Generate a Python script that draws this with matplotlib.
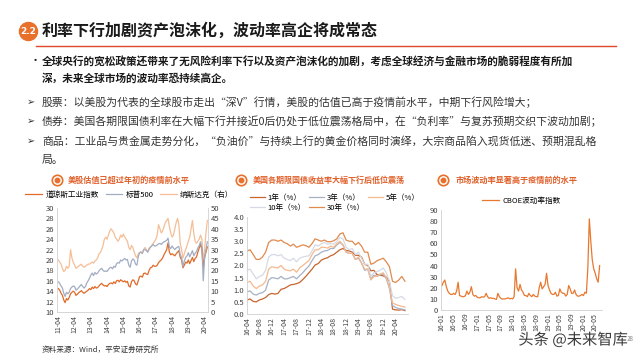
import matplotlib
matplotlib.use('Agg')
import matplotlib.pyplot as plt
from matplotlib.lines import Line2D
import matplotlib.patheffects as pe

plt.rcParams['font.family'] = ['Noto Sans CJK SC', 'DejaVu Sans']
plt.rcParams['axes.unicode_minus'] = False

# ---------- data ----------
# chart 1: PE, monthly 2011-04 .. 2020-06
pe_labels = ['11-04', '12-04', '13-04', '14-04', '15-04', '16-04', '17-04', '18-04', '19-04', '20-04']
dow = [14.5, 14.2, 13.6, 13.2, 12.3, 11.8, 12.6, 12.3, 12.8,
       13.5, 13.8, 14.0, 13.8, 13.2, 13.4, 13.7, 13.9, 14.1, 13.8, 13.6, 13.8,
       14.0, 14.2, 14.5, 14.3, 14.8, 14.5, 14.9, 14.6, 14.7, 15.0, 15.3, 15.5,
       15.2, 15.0, 15.1, 14.9, 15.3, 15.5, 15.6, 15.4, 15.8, 15.5, 16.0, 16.1,
       15.8, 16.2, 16.0, 15.8, 16.0, 15.7, 15.9, 15.0, 14.8, 15.8, 16.2, 16.0,
       15.4, 15.2, 16.0, 16.8, 16.9, 16.7, 17.4, 17.5, 17.3, 17.2, 18.0, 18.5,
       18.6, 19.0, 18.8, 18.8, 19.0, 19.5, 19.8, 20.0, 20.4, 21.0, 21.5, 22.0,
       23.3, 21.5, 21.0, 21.2, 21.0, 20.8, 21.2, 21.5, 21.8, 20.5, 20.0, 18.5,
       19.0, 19.6, 19.4, 20.0, 19.3, 19.9, 20.5, 19.7, 20.3, 20.6, 21.5, 22.3,
       23.0, 22.0, 18.5, 20.5, 21.5, 22.5]
spx = [15.8, 15.5, 15.0, 14.6, 13.6, 13.0, 13.8, 13.5, 13.8,
       14.5, 14.8, 15.0, 14.9, 14.2, 14.4, 14.7, 15.0, 15.3, 14.9, 14.6, 14.9,
       15.6, 16.0, 16.5, 17.1, 17.5, 17.0, 17.6, 17.3, 17.5, 17.9, 18.2, 18.4,
       18.0, 17.8, 17.9, 17.8, 18.2, 18.5, 18.6, 18.3, 18.8, 18.6, 19.3, 19.5,
       19.4, 20.0, 19.8, 20.1, 20.3, 20.0, 20.1, 19.0, 18.6, 19.8, 20.2, 20.0,
       19.2, 19.0, 20.6, 21.4, 21.5, 21.3, 22.0, 22.0, 21.8, 21.5, 22.2, 22.5,
       22.7, 23.0, 22.7, 22.7, 22.9, 23.1, 23.2, 23.0, 23.3, 23.5, 23.6, 23.8,
       24.2, 22.5, 22.2, 22.7, 22.3, 22.0, 22.3, 22.5, 22.6, 21.0, 20.5, 18.8,
       19.8, 20.5, 20.8, 21.4, 20.6, 21.2, 21.8, 20.8, 21.3, 21.6, 22.3, 22.8,
       23.5, 22.4, 16.0, 20.5, 22.0, 23.5]
nasdaq = [25, 24, 23, 21, 19.5, 20, 22, 21, 22,
          30, 26, 24, 22.5, 21, 21.5, 22, 22.5, 23, 22, 21.5, 22,
          22.5, 23, 23, 23.5, 24, 23.5, 24.5, 25, 26, 28, 28.5, 30,
          32, 35, 36, 35, 37, 39, 40, 39, 38, 36, 35, 34,
          35, 37, 36, 37.5, 36, 35, 34, 31, 30, 32, 31, 29,
          27, 26, 28, 28.5, 29, 28, 30, 31, 30, 29, 30, 31,
          32, 33, 34, 35, 37, 42, 40, 38, 39, 41, 43, 44,
          45, 41, 38, 36, 37, 40, 43, 45, 42, 33, 30, 26,
          28, 30, 32, 34, 36, 40, 44, 38, 34, 33, 34, 35,
          37, 35, 24, 30, 38, 44]

# chart 2: US treasury yields (%), monthly 2016-04 .. 2020-07
ust_labels = ['16-04', '16-08', '16-12', '17-04', '17-08', '17-12', '18-04',
              '18-08', '18-12', '19-04', '19-08', '19-12', '20-04']
y1 = [0.58, 0.62, 0.52, 0.50, 0.58, 0.62, 0.68, 0.80, 0.85,
      0.82, 0.85, 1.02, 1.05, 1.12, 1.20, 1.22, 1.25, 1.30, 1.42, 1.55, 1.70,
      1.85, 2.02, 2.08, 2.22, 2.28, 2.32, 2.40, 2.45, 2.55, 2.65, 2.70, 2.62,
      2.60, 2.55, 2.42, 2.42, 2.35, 2.05, 2.00, 1.78, 1.80, 1.62, 1.60, 1.57,
      1.52, 1.35, 0.20, 0.17, 0.16, 0.18, 0.14]
y3 = [0.92, 0.95, 0.82, 0.78, 0.85, 0.88, 0.98, 1.40, 1.50,
      1.48, 1.45, 1.55, 1.45, 1.45, 1.50, 1.55, 1.45, 1.58, 1.70, 1.85, 1.98,
      2.20, 2.40, 2.45, 2.55, 2.60, 2.62, 2.70, 2.70, 2.85, 2.95, 2.85, 2.55,
      2.50, 2.50, 2.25, 2.30, 2.10, 1.80, 1.85, 1.45, 1.60, 1.55, 1.62, 1.65,
      1.45, 1.05, 0.35, 0.27, 0.22, 0.20, 0.17]
y5 = [1.30, 1.35, 1.15, 1.05, 1.15, 1.20, 1.35, 1.85, 1.95,
      1.92, 1.90, 2.00, 1.85, 1.80, 1.78, 1.85, 1.72, 1.90, 2.00, 2.10, 2.20,
      2.45, 2.65, 2.65, 2.75, 2.75, 2.72, 2.80, 2.75, 2.90, 3.00, 2.85, 2.55,
      2.50, 2.50, 2.25, 2.35, 2.10, 1.85, 1.85, 1.40, 1.55, 1.55, 1.65, 1.70,
      1.50, 1.10, 0.45, 0.40, 0.35, 0.32, 0.28]
y10 = [1.80, 1.85, 1.65, 1.45, 1.55, 1.60, 1.80, 2.35, 2.45,
       2.45, 2.40, 2.45, 2.30, 2.25, 2.20, 2.30, 2.15, 2.30, 2.35, 2.38, 2.40,
       2.60, 2.85, 2.80, 2.90, 2.95, 2.88, 2.90, 2.88, 3.00, 3.15, 3.10, 2.75,
       2.65, 2.70, 2.45, 2.55, 2.30, 2.05, 2.05, 1.55, 1.70, 1.75, 1.80, 1.90,
       1.70, 1.35, 0.75, 0.65, 0.68, 0.72, 0.60]
y30 = [2.60, 2.65, 2.45, 2.25, 2.25, 2.35, 2.55, 2.95, 3.05,
       3.05, 3.00, 3.05, 2.95, 2.90, 2.80, 2.88, 2.75, 2.80, 2.85, 2.82, 2.75,
       2.90, 3.10, 3.05, 3.00, 3.05, 2.98, 2.98, 3.02, 3.10, 3.30, 3.35, 3.05,
       3.00, 3.00, 2.85, 2.95, 2.80, 2.55, 2.55, 2.05, 2.10, 2.20, 2.25, 2.30,
       2.15, 1.95, 1.35, 1.30, 1.40, 1.55, 1.35]

# chart 3: CBOE VIX, half-monthly 2016-01 .. 2020-06
vix_labels = ['16-01', '16-05', '16-09', '17-01', '17-05', '17-09', '18-01',
              '18-05', '18-09', '19-01', '19-05', '19-09', '20-01', '20-05']
vix = [22, 25, 27, 21, 17, 15, 14, 14, 15, 14, 17, 25, 13, 12.5, 12, 12, 13, 17, 14, 16, 21, 14, 12.5, 13,
       11.5, 11, 11, 12, 11.5, 12, 15, 12, 10.5, 11, 10.5, 10.5, 10, 9.5, 15, 12, 10.5, 9.8, 10, 10, 10.5, 11, 10, 10.5,
       10, 12, 37, 20, 17, 23, 18, 16, 13, 13, 12, 15, 13, 12, 14, 12.5, 12, 12, 20, 25, 19, 21, 23, 33,
       22, 18, 15, 14, 14, 16, 12.5, 13, 19, 16, 15, 15, 12.5, 14, 22, 19, 15, 15, 18, 14, 12.5, 12.5, 13, 14,
       13, 16, 15, 38, 82, 62, 45, 37, 33, 28, 25, 40]

ORANGE = '#E8702A'
SUB = '#E0602A'
TXT = '#333333'
W, H = 640, 360


def fx(px):
    return px / W


def fy(py):
    return 1 - py / H


def style_ax(ax, spines=('left', 'bottom')):
    for s in ax.spines:
        ax.spines[s].set_visible(s in spines)
        ax.spines[s].set_color('#D0D0D0')
        ax.spines[s].set_linewidth(0.6)
    ax.tick_params(length=0, labelsize=5.5, colors='#404040', pad=2)
    ax.tick_params(axis='x', labelsize=5, rotation=90)


def icon(x, y):
    fig.add_artist(Line2D([fx(x)], [fy(y)], marker='o', markersize=7.5, mfc='white',
                          mec=ORANGE, mew=1.2, transform=fig.transFigure))
    fig.add_artist(Line2D([fx(x)], [fy(y)], marker='o', markersize=3.2, color=ORANGE,
                          transform=fig.transFigure))


fig = plt.figure(figsize=(6.4, 3.6), dpi=100)

# ---------- header ----------
fig.add_artist(Line2D([fx(28)], [fy(31)], marker='o', markersize=13, color=ORANGE,
                      transform=fig.transFigure))
fig.text(fx(28), fy(31), '2.2', color='white', fontsize=6.5, fontweight='bold',
         ha='center', va='center', family='DejaVu Sans')
fig.text(fx(42), fy(31), '利率下行加剧资产泡沫化，波动率高企将成常态', fontsize=11.5,
         fontweight='bold', color='#1A1A1A', va='center')
fig.add_artist(Line2D([fx(36), fx(616)], [fy(46), fy(46)], color='#E0472B', lw=1,
                      transform=fig.transFigure))

fig.text(fx(30), fy(61), '•', fontsize=8, color='#1A1A1A', va='center')
fig.text(fx(42), fy(61), '全球央行的宽松政策还带来了无风险利率下行以及资产泡沫化的加剧，考虑全球经济与金融市场的脆弱程度有所加',
         fontsize=7.7, fontweight='bold', color='#1A1A1A', va='center')
fig.text(fx(42), fy(78), '深，未来全球市场的波动率恐持续高企。', fontsize=7.7,
         fontweight='bold', color='#1A1A1A', va='center')

lines = [(102, '股票：以美股为代表的全球股市走出“深V”行情，美股的估值已高于疫情前水平，中期下行风险增大；'),
         (121, '债券：美国各期限国债利率在大幅下行并接近0后仍处于低位震荡格局中，在“负利率”与复苏预期交织下波动加剧；'),
         (141, '商品：工业品与贵金属走势分化，“负油价”与持续上行的黄金价格同时演绎，大宗商品陷入现货低迷、预期混乱格'),
         (160, '局。')]
for yy, s in lines:
    fig.text(fx(42), fy(yy), s, fontsize=7.8, color=TXT, va='center')
for yy in (102, 121, 141):
    fig.text(fx(27), fy(yy), '➢', fontsize=7, color=TXT, va='center',
             family=['DejaVu Sans'])

# ---------- chart 1 ----------
icon(57, 180)
fig.text(fx(68), fy(180), '美股估值已超过年初的疫情前水平', fontsize=5.9, fontweight='bold',
         color=SUB, va='center')
ax1 = fig.add_axes([fx(57), fy(312), fx(151), 104 / H])
m1 = range(len(dow))
l_dow, = ax1.plot(m1, dow, color='#E06A28', lw=0.9)
l_spx, = ax1.plot(m1, spx, color='#A3ADC2', lw=0.9)
ax1.set_ylim(10, 30)
ax1.set_yticks(range(10, 31, 2))
ax1.set_xlim(-1, len(dow) - 0.5)
ax1.set_xticks(range(0, 109, 12), pe_labels)
style_ax(ax1)
ax1b = ax1.twinx()
l_nas, = ax1b.plot(m1, nasdaq, color='#F5BE96', lw=0.9)
ax1b.set_ylim(0, 50)
ax1b.set_yticks(range(0, 51, 5))
style_ax(ax1b, spines=('right',))
ax1b.set_zorder(ax1.get_zorder() - 1)
ax1.patch.set_visible(False)
ax1.legend([l_dow, l_spx, l_nas], ['道琼斯工业指数', '标普500', '纳斯达克（右）'],
           ncol=3, frameon=False, fontsize=5.5, loc='lower center',
           bbox_to_anchor=(0.48, 1.06), handlelength=2.2, columnspacing=0.9,
           handletextpad=0.4, borderaxespad=0)

# ---------- chart 2 ----------
icon(241, 180)
fig.text(fx(253), fy(180), '美国各期限国债收益率大幅下行后低位震荡', fontsize=5.8,
         fontweight='bold', color=SUB, va='center')
ax2 = fig.add_axes([fx(247), fy(314), fx(161), 97 / H])
m2 = range(len(y1))
h1, = ax2.plot(m2, y1, color='#C8642F', lw=0.9)
h3, = ax2.plot(m2, y3, color='#A8B0C4', lw=0.9)
h5, = ax2.plot(m2, y5, color='#F4B98E', lw=0.9)
h10, = ax2.plot(m2, y10, color='#D5DAE4', lw=0.9)
h30, = ax2.plot(m2, y30, color='#E08A4E', lw=0.9)
ax2.set_ylim(0, 4)
ax2.set_yticks([i * 0.5 for i in range(9)], [f'{i * 0.5:.1f}' for i in range(9)])
ax2.set_xlim(0, len(y1))
ax2.set_xticks(range(0, 49, 4), ust_labels)
style_ax(ax2)
ax2.legend([h1, h10, h3, h30, h5], ['1年（%）', '10年（%）', '3年（%）', '30年（%）', '5年（%）'],
           ncol=3, frameon=False, fontsize=5.5, loc='lower left',
           bbox_to_anchor=(0.0, 1.02), handlelength=1.9, columnspacing=0.5,
           handletextpad=0.35, borderaxespad=0, labelspacing=0.3)

# ---------- chart 3 ----------
icon(443, 180)
fig.text(fx(456), fy(180), '市场波动率显著高于疫情前的水平', fontsize=5.9, fontweight='bold',
         color=SUB, va='center')
ax3 = fig.add_axes([fx(441), fy(310), fx(161), 100 / H])
m3 = [i / 2 for i in range(len(vix))]
hv, = ax3.plot(m3, vix, color='#E8782F', lw=0.9)
ax3.set_ylim(0, 90)
ax3.set_yticks(range(0, 91, 10))
ax3.set_xlim(-0.3, 54.3)
ax3.set_xticks(range(0, 53, 4), vix_labels)
style_ax(ax3)
ax3.legend([hv], ['CBOE波动率指数'], frameon=False, fontsize=5.5, loc='lower center',
           bbox_to_anchor=(0.5, 1.02), handlelength=2.2, handletextpad=0.4, borderaxespad=0)

# ---------- footer ----------
fig.text(fx(42), fy(350), '资料来源：Wind，平安证券研究所', fontsize=5.5, color=TXT, va='center')
fig.text(fx(630), fy(339), '28', fontsize=4.5, color='#808080', ha='center', va='center')
fig.text(fx(573), fy(340), '头条 @未来智库', fontsize=11, color='#3A3A3A', ha='center',
         va='center', path_effects=[pe.withStroke(linewidth=2, foreground='white')])

fig.savefig('out.png', dpi=100)
